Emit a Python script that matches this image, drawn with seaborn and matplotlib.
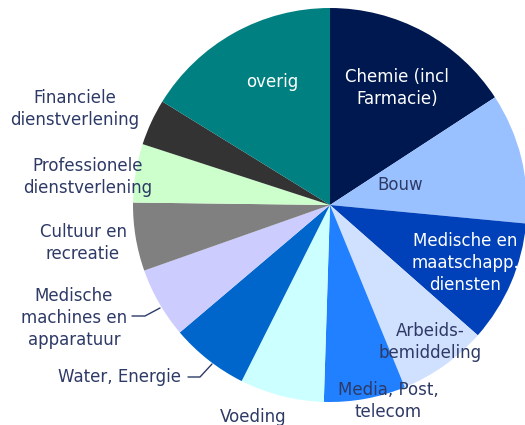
import matplotlib
matplotlib.use('Agg')
from matplotlib import pyplot as plt
import seaborn as sns

# Sectors, clockwise from 12 o'clock (share in %)
sectors = ['Chemie (incl\nFarmacie)', 'Bouw', 'Medische en\nmaatschapp.\ndiensten',
           'Arbeids-\nbemiddeling', 'Media, Post,\ntelecom', 'Voeding', 'Water, Energie',
           'Medische\nmachines en\napparatuur', 'Cultuur en\nrecreatie',
           'Professionele\ndienstverlening', 'Financiele\ndienstverlening', 'overig']
shares = [15.8, 10.7, 10.0, 7.3, 6.7, 6.9, 6.4, 5.8, 5.6, 4.8, 3.8, 16.2]
colors = ['#001850', '#99C0FF', '#0040B8', '#D0E0FF', '#2080FF', '#CCFFFF',
          '#0066CC', '#CCCCFF', '#808080', '#CCFFCC', '#333333', '#008080']

sns.set_theme(style='white')
plt.rcParams['font.family'] = ['DejaVu Sans']

W, H = 525, 425
fig = plt.figure(figsize=(W / 100, H / 100), dpi=100)
ax = fig.add_axes([0, 0, 1, 1])

# work in pixel-like units, y measured from the top
cx, cy, r = 330, 205, 197
ax.pie(shares, colors=colors, startangle=90, counterclock=False,
       center=(cx, H - cy), radius=r, wedgeprops={'linewidth': 0})
ax.set_xlim(0, W)
ax.set_ylim(0, H)
ax.set_aspect('auto')
ax.axis('off')

dark = '#2E3A66'
# label layout: (x, y from top, colour)
layout = [
    (397, 88, 'white'),
    (400, 185, dark),
    (465, 263, 'white'),
    (430, 342, dark),
    (388, 401, dark),
    (253, 417, dark),
    (120, 377, dark),
    (74, 318, dark),
    (83, 243, dark),
    (88, 177, dark),
    (75, 109, dark),
    (272, 82, 'white'),
]
for name, (x, y, c) in zip(sectors, layout):
    ax.text(x, H - y, name, color=c, ha='center', va='center', fontsize=12,
            linespacing=1.27)

# leader lines for two outside labels
ax.plot([132, 145, 160], [H - 316, H - 316, H - 308], color=dark, lw=1)
ax.plot([188, 200, 212], [H - 377, H - 377, H - 364], color=dark, lw=1)

fig.savefig('out.png', dpi=100)
